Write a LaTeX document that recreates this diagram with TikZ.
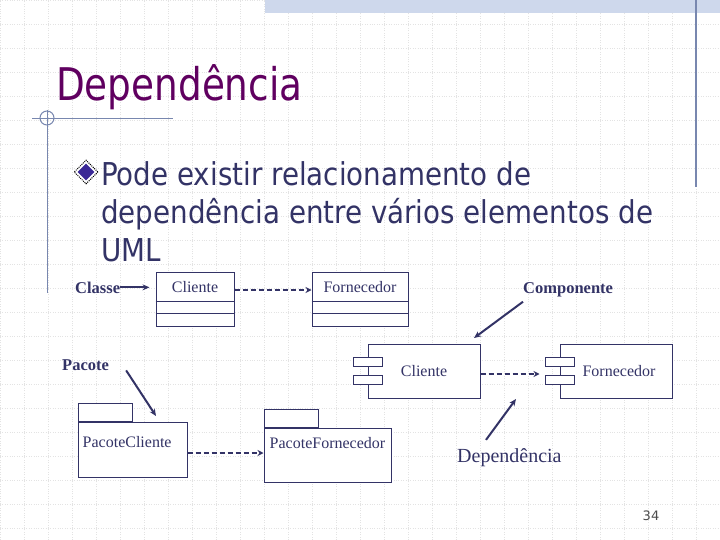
\documentclass[tikz,border=0pt]{standalone}
\usepackage{fontspec}
\usepackage{graphicx}
\setmainfont{Liberation Serif}
\newfontfamily\slidefont{DejaVu Sans}
\usetikzlibrary{calc,positioning,arrows.meta,shapes.geometric}
\definecolor{ink}{RGB}{51,51,102}
\definecolor{titlepurple}{RGB}{96,0,96}
\definecolor{bulletblue}{RGB}{58,40,150}
\definecolor{rulegray}{RGB}{120,135,175}
\definecolor{bandblue}{RGB}{206,216,236}

\begin{document}
\begin{tikzpicture}[
  x=1pt,y=-1pt,
  gridline/.style={draw=black!11,line width=0.7pt,dash pattern=on 1pt off 1.4pt},
  deco/.style={draw=rulegray,line width=1pt},
  umlbox/.style={draw=ink,line width=1pt,fill=white,inner sep=0pt,text=ink,
    font=\fontsize{16}{19}\selectfont},
  umlline/.style={draw=ink,line width=1pt},
  port/.style={draw=ink,line width=1pt,fill=white,inner sep=0pt,
    minimum width=29pt,minimum height=9pt},
  umltext/.style={text=ink,font=\fontsize{16}{19}\selectfont,inner sep=0pt},
  lbl/.style={text=ink,font=\fontsize{16.5}{19}\selectfont\bfseries,inner sep=0pt},
  bullettext/.style={text=ink,font=\slidefont\fontsize{31.5}{38}\selectfont,
    inner sep=0pt,anchor=base west},
  note/.style={draw=ink,line width=2pt,-{Stealth[length=7pt,width=6pt]}},
  dep/.style={draw=ink,line width=2pt,dash pattern=on 5pt off 3pt,
    -{Stealth[length=6pt,width=6pt]}}
]
  \useasboundingbox (0,0) rectangle (720,540);

  % Slide background
  \fill[white] (0,0) rectangle (720,540);
  \draw[gridline,step=24pt] (0,0) grid (720,540);
  \fill[bandblue] (265,0) rectangle (720,13);
  \draw[deco,line width=1.5pt] (696,0) -- (696,187);
  \draw[deco] (32,119) -- (173,119);
  \draw[deco] (47,110) -- (47,293);
  \draw[deco] (47,118) circle[radius=7];

  % Title and bullet
  \node[anchor=base west,text=titlepurple,inner sep=0pt,
    font=\slidefont\fontsize{45}{50}\selectfont] (title) at (56,101)
    {\scalebox{0.83}[1]{Dependência}};
  \node[diamond,draw=black,line width=1pt,dash pattern=on 1pt off 1pt,fill=white,
    minimum size=24pt,inner sep=0pt] (bul) at (86,172) {};
  \node[diamond,fill=bulletblue,minimum size=17pt,inner sep=0pt] at (bul) {};
  \node[bullettext] (bulA) at (101,186) {\scalebox{0.88}[1]{Pode existir relacionamento de}};
  \node[bullettext] (bulB) at (101,224) {\scalebox{0.88}[1]{dependência entre vários elementos de}};
  \node[bullettext] (bulC) at (101,261) {\scalebox{0.88}[1]{UML}};

  % Classes
  \node[umlbox,minimum width=78pt,minimum height=54pt] (clsCli) at (195,299) {};
  \node[umltext] at ($(clsCli.north)+(0,16)$) {Cliente};
  \draw[umlline] ($(clsCli.north west)+(0,30)$) -- ($(clsCli.north east)+(0,30)$);
  \draw[umlline] ($(clsCli.north west)+(0,42)$) -- ($(clsCli.north east)+(0,42)$);

  \node[umlbox,minimum width=96pt,minimum height=54pt] (clsFor) at (360,299) {};
  \node[umltext] at ($(clsFor.north)+(0,16)$) {Fornecedor};
  \draw[umlline] ($(clsFor.north west)+(0,30)$) -- ($(clsFor.north east)+(0,30)$);
  \draw[umlline] ($(clsFor.north west)+(0,42)$) -- ($(clsFor.north east)+(0,42)$);

  % Components
  \node[umlbox,minimum width=112pt,minimum height=54pt] (compCli) at (424,371) {Cliente};
  \node[port] (compCliPa) at ($(compCli.west)+(0,-9)$) {};
  \node[port] (compCliPb) at ($(compCli.west)+(0,9)$) {};

  \node[umlbox,minimum width=112pt,minimum height=54pt] (compFor) at (616,371) {\hspace*{6pt}Fornecedor};
  \node[port] (compForPa) at ($(compFor.west)+(0,-9)$) {};
  \node[port] (compForPb) at ($(compFor.west)+(0,9)$) {};

  % Packages
  \node[umlbox,minimum width=109pt,minimum height=55pt] (pkgCli) at (132.5,449.5) {};
  \node[umlbox,minimum width=54pt,minimum height=18pt,anchor=south west]
    (pkgCliTab) at (pkgCli.north west) {};
  \node[umltext,anchor=west] at ($(pkgCli.north west)+(5,21)$) {PacoteCliente};

  \node[umlbox,minimum width=127pt,minimum height=54pt] (pkgFor) at (327.5,455) {};
  \node[umlbox,minimum width=54pt,minimum height=18pt,anchor=south west]
    (pkgForTab) at (pkgFor.north west) {};
  \node[umltext,anchor=west] at ($(pkgFor.north west)+(6,16)$) {PacoteFornecedor};

  % Labels
  \node[lbl,anchor=base west] (classe) at (75,293) {Classe};
  \node[lbl,anchor=base west] (componente) at (523,293) {Componente};
  \node[lbl,anchor=base west] (pacote) at (62,370) {Pacote};
  \node[text=ink,font=\fontsize{20}{23}\selectfont,inner sep=0pt,anchor=base west]
    (deplbl) at (457,462) {Dependência};
  \node[text=black!70,font=\slidefont\fontsize{13}{15}\selectfont] (pnum) at (651,516) {34};

  % Hint arrows
  \coordinate (compHint) at (474,338);
  \coordinate (depHint) at (516,399);
  \coordinate (pkgHint) at (156,416);
  \draw[note,shorten >=6pt] (classe.east) -- (classe.east -| clsCli.west);
  \draw[note] ([yshift=-5pt]componente.south west) -- (compHint);
  \draw[note] ([xshift=29pt,yshift=8pt]deplbl.north west) -- (depHint);
  \draw[note] ([xshift=17pt]pacote.south east) -- (pkgHint);

  % Dependencies
  \draw[dep] ([yshift=9pt]clsCli.east) -- ([yshift=9pt]clsFor.west);
  \draw[dep,shorten >=5pt] ([yshift=-3pt]compCli.east) -- ([yshift=-3pt]compCli.east -| compForPa.west);
  \draw[dep] ([yshift=-3.5pt]pkgCli.east) -- ([yshift=-3.5pt]pkgCli.east -| pkgFor.west);
\end{tikzpicture}
\end{document}
